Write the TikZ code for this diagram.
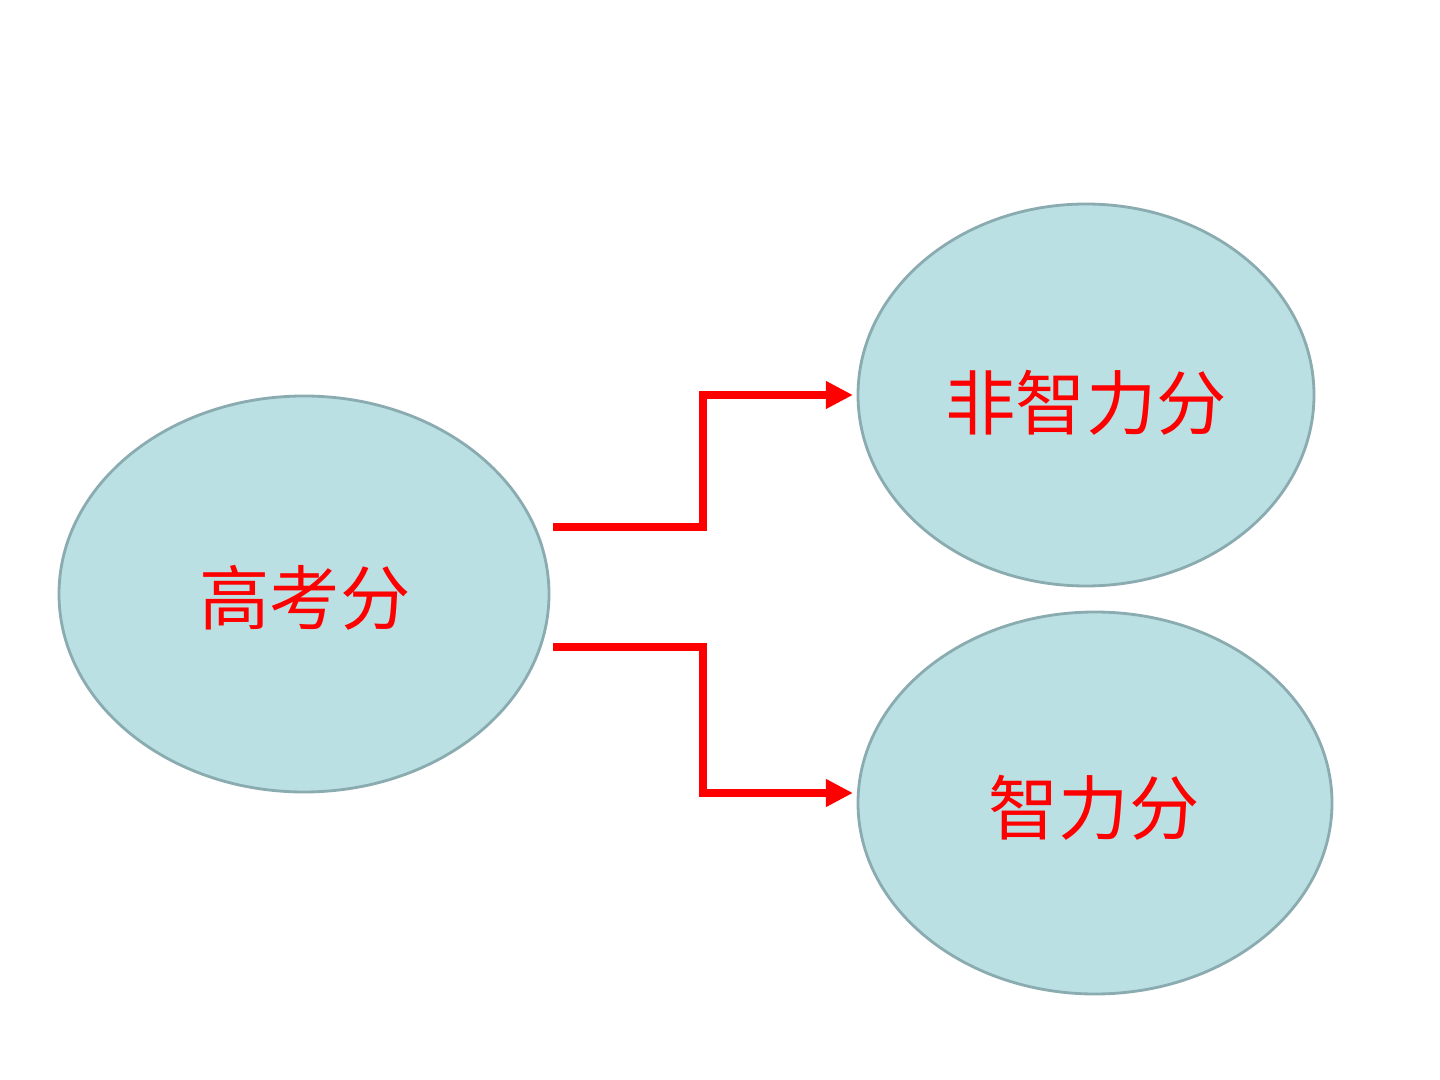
\documentclass[tikz,border=0pt]{standalone}
\usepackage{fontspec}
\newfontfamily\cjk{Noto Sans CJK SC}
\usetikzlibrary{arrows.meta}
\definecolor{ellfill}{HTML}{BBE0E3}
\definecolor{elldraw}{HTML}{8AABB0}
\definecolor{arrred}{HTML}{FF0000}
\tikzset{
  bubble/.style={fill=ellfill, draw=elldraw, line width=0.8pt},
  lbl/.style={text=arrred, font=\cjk\fontsize{20pt}{24pt}\selectfont},
  link/.style={draw=arrred, line width=0.08cm, -{Triangle[length=0.27cm,width=0.26cm]}}
}
\begin{document}
\begin{tikzpicture}[x=0.01cm,y=-0.01cm]
\useasboundingbox (0,0) rectangle (1440,1080);
\fill[white] (0,0) rectangle (1440,1080);
\path[bubble] (304,594) ellipse [x radius=245, y radius=198];
\path[bubble] (1086,395) ellipse [x radius=228, y radius=191];
\path[bubble] (1095,803) ellipse [x radius=237, y radius=191];
\node[lbl] (a) at (305,598) {高考分};
\node[lbl] (b) at (1086,403) {非智力分};
\node[lbl] (c) at (1094,808) {智力分};
\coordinate (s1) at (553,527);
\coordinate (e1) at (853,395);
\coordinate (s2) at (553,647);
\coordinate (e2) at (853,793);
\draw[link] (s1) -- (703,527) -- (703,395) -- (e1);
\draw[link] (s2) -- (703,647) -- (703,793) -- (e2);
\end{tikzpicture}
\end{document}
